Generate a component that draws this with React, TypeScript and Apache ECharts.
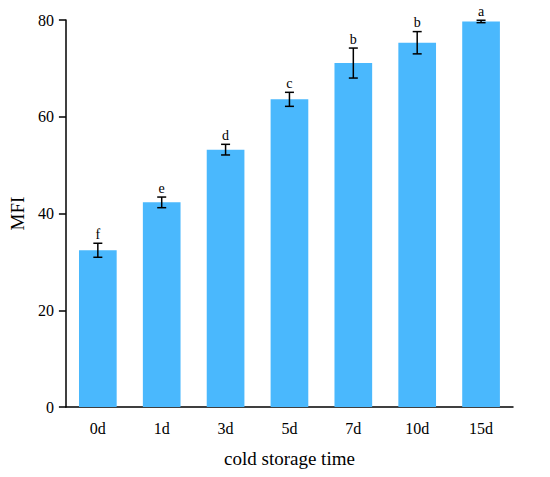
import React, { useEffect, useRef } from "react";
import * as echarts from "echarts";

const categories = ["0d", "1d", "3d", "5d", "7d", "10d", "15d"];
const mfiValues = [32.4, 42.3, 53.2, 63.6, 71.1, 75.3, 79.7];
const mfiErrors = [1.45, 1.1, 1.1, 1.45, 3.1, 2.3, 0.25];
const sigLetters = ["f", "e", "d", "c", "b", "b", "a"];
const yTicks = [0, 20, 40, 60, 80];

const FONT = "'Liberation Serif', 'DejaVu Serif', serif";

export default function App() {
  const ref = useRef<HTMLDivElement>(null);
  useEffect(() => {
    if (!ref.current) return;
    const chart = echarts.init(ref.current, null, { renderer: "svg" });
    const errData = categories.map((c, i) => [i, mfiValues[i], mfiErrors[i]]);
    chart.setOption({
      animation: false,
      grid: { left: 61, right: 37, top: 20, bottom: 70 },
      xAxis: {
        type: "category",
        data: categories,
        name: "cold storage time",
        nameLocation: "middle",
        nameGap: 42,
        nameTextStyle: { fontFamily: FONT, fontSize: 19, color: "#000" },
        axisLine: { lineStyle: { color: "#000", width: 1.5 } },
        axisTick: { alignWithLabel: true, length: 7, lineStyle: { color: "#000", width: 1.5 } },
        axisLabel: { fontFamily: FONT, fontSize: 16, color: "#000", margin: 13 },
      },
      yAxis: {
        type: "value",
        min: yTicks[0],
        max: yTicks[yTicks.length - 1],
        interval: 20,
        name: "MFI",
        nameLocation: "middle",
        nameGap: 35,
        nameTextStyle: { fontFamily: FONT, fontSize: 19, color: "#000" },
        axisLine: { show: true, lineStyle: { color: "#000", width: 1.5 } },
        axisTick: { show: true, length: 7, lineStyle: { color: "#000", width: 1.5 } },
        axisLabel: { fontFamily: FONT, fontSize: 16, color: "#000", margin: 12 },
        splitLine: { show: false },
      },
      series: [
        {
          type: "bar",
          data: mfiValues,
          barWidth: "59%",
          itemStyle: { color: "#4AB8FD" },
        },
        {
          type: "custom",
          data: errData,
          z: 10,
          renderItem: (params: any, api: any) => {
            const x = api.value(0);
            const v = api.value(1);
            const e = api.value(2);
            const top = api.coord([x, v + e]);
            const bot = api.coord([x, v - e]);
            const hw = 4.5;
            const style = { stroke: "#000", lineWidth: 1.5 };
            return {
              type: "group",
              children: [
                { type: "line", shape: { x1: top[0], y1: top[1], x2: bot[0], y2: bot[1] }, style },
                { type: "line", shape: { x1: top[0] - hw, y1: top[1], x2: top[0] + hw, y2: top[1] }, style },
                { type: "line", shape: { x1: bot[0] - hw, y1: bot[1], x2: bot[0] + hw, y2: bot[1] }, style },
                {
                  type: "text",
                  x: top[0],
                  y: top[1] - 2,
                  style: {
                    text: sigLetters[params.dataIndex],
                    fontFamily: FONT,
                    fontSize: 14,
                    fill: "#000",
                    align: "center",
                    verticalAlign: "bottom",
                  },
                },
              ],
            };
          },
        },
      ],
    });
    return () => chart.dispose();
  }, []);
  return (
    <div
      ref={ref}
      style={{ position: "absolute", left: 0, top: 0, width: 550, height: 477 }}
    />
  );
}
